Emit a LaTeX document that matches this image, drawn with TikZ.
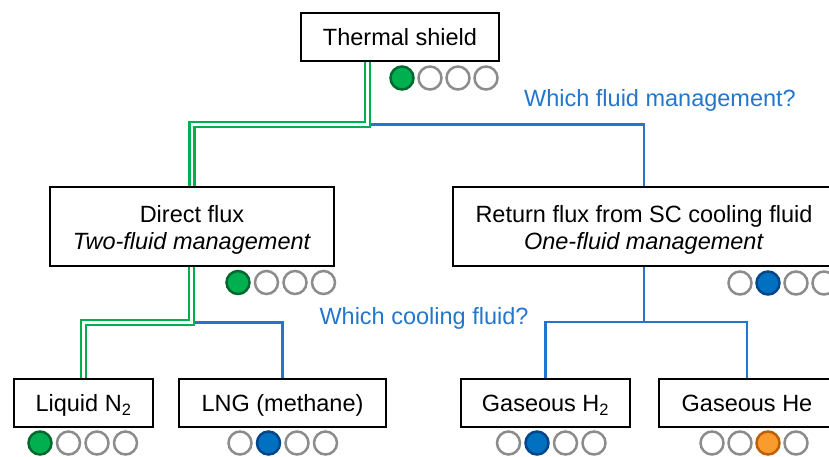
\documentclass[tikz,border=0pt]{standalone}
\usepackage{fontspec}
\setmainfont{Liberation Sans}[Ligatures=NoCommon]
\definecolor{lblue}{RGB}{36,118,204}
\definecolor{lgreen}{RGB}{0,176,80}
\definecolor{dgreen}{RGB}{0,105,45}
\definecolor{fblue}{RGB}{0,112,192}
\definecolor{dblue}{RGB}{0,70,140}
\definecolor{forange}{RGB}{250,155,45}
\definecolor{dorange}{RGB}{190,95,10}
\definecolor{cgray}{RGB}{140,140,140}
\begin{document}
\begin{tikzpicture}[x=1pt,y=-1pt,
  box/.style={draw=black, line width=2.6pt, fill=white, inner sep=0pt, font=\fontsize{23.5}{27}\selectfont, align=center},
  onebox/.style={box, minimum height=48pt, text height=17pt, text depth=0pt},
  twobox/.style={box, minimum height=79pt},
  blueline/.style={draw=lblue, line width=2.5pt},
  greenline/.style={draw=lgreen, line width=2.5pt, double=white, double distance=2.8pt},
  dot/.style={circle, draw=cgray, line width=2.5pt, minimum size=23pt, inner sep=0pt, fill=white},
  dotG/.style={dot, draw=dgreen, fill=lgreen},
  dotB/.style={dot, draw=dblue, fill=fblue},
  dotO/.style={dot, draw=dorange, fill=forange},
  question/.style={text=lblue, font=\fontsize{23.5}{27}\selectfont, anchor=base, inner sep=0pt}]
\useasboundingbox (0,0) rectangle (829,456);
\clip (0,0) rectangle (829,456);

% boxes
\node[onebox, minimum width=198pt] (ts) at (400,37) {Thermal shield};
\node[twobox, minimum width=284pt] (df) at (192,226.5) {\rule{0pt}{23pt}Direct flux\\ \textit{Two-fluid management}};
\node[twobox, minimum width=382pt] (rf) at (644,226.5) {\rule{0pt}{23pt}Return flux from SC cooling fluid\\ \textit{One-fluid management}};
\node[onebox, minimum width=139pt] (ln) at (83.5,403) {Liquid N\textsubscript{2}};
\node[onebox, minimum width=207pt] (lng) at (282.5,403) {LNG (methane)};
\node[onebox, minimum width=169pt] (h2) at (545.5,403) {Gaseous H\textsubscript{2}};
\node[onebox, minimum width=176pt] (he) at (747,403) {Gaseous He};

% junctions
\coordinate (j1) at (367.5,124.5);
\coordinate (j2) at (191.5,322.5);
\coordinate (j3) at (644,322);

% connectors
\draw[blueline] (j1) -| (rf.north);
\draw[greenline] (ts.south -| j1) -- (j1) -| (df.north);
\draw[blueline] (j2) -| (lng.north);
\draw[greenline] (df.south -| j2) -- (j2) -| (ln.north);
\draw[blueline] (rf.south) -- (j3);
\draw[blueline] (h2.north) |- (j3) -| (he.north);

% questions
\node[question] (q1) at (660,106.5) {Which fluid management?};
\node[question] (q2) at (424,324) {Which cooling fluid?};

% rating dots
\node[dotG] (ts1) at (402,78) {};
\node[dot]  (ts2) at (430,78) {};
\node[dot]  (ts3) at (458,78) {};
\node[dot]  (ts4) at (486,78) {};

\node[dotG] (df1) at (238,282.5) {};
\node[dot]  (df2) at (266.5,282.5) {};
\node[dot]  (df3) at (295,282.5) {};
\node[dot]  (df4) at (323.5,282.5) {};

\node[dot]  (rf1) at (740,283) {};
\node[dotB] (rf2) at (768,283) {};
\node[dot]  (rf3) at (796,283) {};
\node[dot]  (rf4) at (824,283) {};

\node[dotG] (ln1) at (40,443) {};
\node[dot]  (ln2) at (68.5,443) {};
\node[dot]  (ln3) at (97,443) {};
\node[dot]  (ln4) at (125.5,443) {};

\node[dot]  (lg1) at (240,443) {};
\node[dotB] (lg2) at (268.5,443) {};
\node[dot]  (lg3) at (297,443) {};
\node[dot]  (lg4) at (325.5,443) {};

\node[dot]  (hh1) at (508.5,443) {};
\node[dotB] (hh2) at (537,443) {};
\node[dot]  (hh3) at (565.5,443) {};
\node[dot]  (hh4) at (594,443) {};

\node[dot]  (he1) at (712,443) {};
\node[dot]  (he2) at (740,443) {};
\node[dotO] (he3) at (768,443) {};
\node[dot]  (he4) at (796,443) {};
\end{tikzpicture}
\end{document}
